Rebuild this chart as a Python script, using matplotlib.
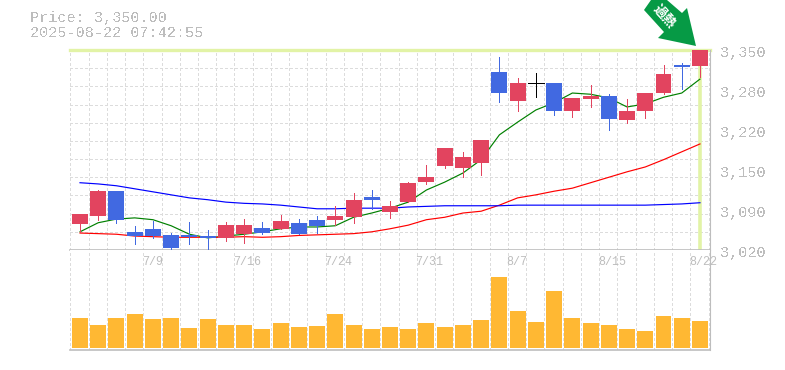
import matplotlib
matplotlib.use('Agg')
import matplotlib.pyplot as plt
from matplotlib.patches import Polygon

# ohlc
opens = [3063,3076,3117,3050,3055,3045,3045,3043,3040,3046,3056,3055,3065,3070,3070,3074,3107,3083,3099,3132,
         3159,3155,3164,3314,3266,3296,3296,3249,3269,3274,3234,3249,3279,3325,3324]
closes = [3079,3117,3070,3043,3043,3023,3041,3040,3061,3061,3048,3068,3046,3060,3076,3102,3102,3093,3131,3140,
          3188,3173,3201,3279,3296,3296,3249,3271,3274,3236,3249,3279,3310,3322,3350]
highs = [3079,3119,3117,3060,3068,3048,3066,3053,3066,3071,3066,3078,3071,3076,3093,3114,3119,3101,3132,3160,
         3188,3182,3201,3338,3304,3312,3296,3271,3292,3277,3269,3279,3325,3329,3350]
lows = [3050,3070,3065,3030,3040,3020,3030,3020,3035,3032,3046,3055,3046,3048,3061,3065,3088,3073,3099,3129,
        3155,3140,3144,3264,3249,3272,3243,3239,3256,3218,3230,3238,3277,3286,3305]
ma_short = [3050,3065,3071,3073,3070,3060,3046,3040,3043,3046,3050,3055,3058,3058,3060,3074,3081,3089,3099,3119,
            3132,3147,3169,3210,3231,3251,3263,3279,3277,3271,3256,3261,3272,3279,3302]
ma_mid = [3048,3047,3046,3043,3042,3041,3041,3041,3041,3042,3041,3042,3044,3045,3046,3047,3050,3055,3061,3070,
          3074,3081,3084,3094,3106,3111,3117,3122,3131,3140,3149,3157,3169,3182,3195]
ma_long = [3131,3129,3126,3121,3116,3111,3106,3103,3099,3097,3096,3094,3091,3088,3088,3089,3089,3089,3091,3092,
           3093,3093,3093,3093,3094,3094,3094,3094,3094,3094,3094,3094,3095,3096,3098]
volume = [30,23,30,34,29,30,20,29,23,23,19,25,21,22,34,23,19,21,19,25,21,23,28,71,37,26,57,30,25,23,19,17,32,30,27]
date_pos = [4,9,14,19,24,29,34]
date_labels = ['7/9','7/16','7/24','7/31','8/7','8/15','8/22']
price_pos = [3020,3086,3152,3218,3284,3350]
price_labels = ['3,020','3,090','3,150','3,220','3,280','3,350']
grid_prices = [3050,3080,3110,3140,3170,3200,3230,3260,3290,3320]

W, H = 785, 370
RED = '#e2445f'
BLUE = '#4169e1'
GRAY = '#bdbdbd'
LIME = '#e2f3a6'
mono = 'Liberation Mono'
x = list(range(len(closes)))

fig = plt.figure(figsize=(W/100, H/100), dpi=100)

def panel(left, top, right, bottom):
    return fig.add_axes([left/W, 1-bottom/H, (right-left)/W, (bottom-top)/H])

ax = panel(70, 50, 710, 250)
ax2 = panel(70, 250, 710, 350)

for a in (ax, ax2):
    a.set_xlim(-0.548, 34.55)
    a.set_xticks([i-0.53 for i in range(36)])
    a.tick_params(left=False, bottom=False, labelleft=False, labelbottom=False)
    a.grid(axis='x', color='#dcdcdc', ls=(0, (4, 3)), lw=0.5, antialiased=False)
    a.set_axisbelow(True)
    for s in a.spines.values():
        s.set_visible(False)
    a.spines['right'].set_visible(True)
    a.spines['right'].set_color(GRAY)
    a.spines['bottom'].set_visible(True)
    a.spines['bottom'].set_color(GRAY)
    a.spines['bottom'].set_linewidth(1.2)

ax.set_ylim(3020, 3350)
ax.set_yticks(grid_prices)
ax.grid(axis='y', color='#dcdcdc', ls=(0, (4, 3)), lw=0.5, antialiased=False)

# current price marker
ax.axhline(3350, color=LIME, lw=2.4, zorder=1, clip_on=False)
ax.axvline(x[-1], color=LIME, lw=2.6, zorder=1)

for i in x:
    if closes[i] > opens[i]:
        c = RED
    elif closes[i] < opens[i]:
        c = BLUE
    else:
        c = 'black'
    ax.vlines(i, lows[i], highs[i], color=c, lw=0.5, zorder=3, clip_on=False, antialiased=False)
    if c == 'black':
        ax.hlines(closes[i], i-0.44, i+0.44, color=c, lw=0.5, zorder=3, antialiased=False)
    else:
        ax.bar(i, abs(closes[i]-opens[i]), bottom=min(opens[i], closes[i]), width=0.877, color=c, zorder=3)

ax.plot(x, ma_short, color='#008000', lw=0.85, zorder=2)
ax.plot(x, ma_mid, color='#ff0000', lw=0.85, zorder=2)
ax.plot(x, ma_long, color='#0000ff', lw=0.85, zorder=2)

ax2.set_ylim(-2, 98)
ax2.bar(x, volume, width=0.877, color='#ffb833', zorder=3)

# text
for p, s in zip(price_pos, price_labels):
    ax.annotate(s, (1, p), xycoords=('axes fraction', 'data'), xytext=(10, -3), textcoords='offset pixels',
                ha='left', va='center', family=mono, fontsize=10.9, color=GRAY, annotation_clip=False,
                antialiased=False)
for p, s in zip(date_pos, date_labels):
    ax2.annotate(s, (p, 1), xycoords=('data', 'axes fraction'), xytext=(-11, -12), textcoords='offset pixels',
                 ha='left', va='center', family='Liberation Mono', fontsize=8.4, color=GRAY, annotation_clip=False)
fig.text(30/W, 1-18/H, 'Price: 3,350.00', family=mono, fontsize=10.9, color=GRAY, ha='left', va='center', antialiased=False)
fig.text(30/W, 1-33/H, '2025-08-22 07:42:55', family=mono, fontsize=10.9, color=GRAY, ha='left', va='center', antialiased=False)

# green arrow, pixel coords
arrow = [(644, 10), (651, 0), (667, 0), (682, 13), (687, 8), (696, 46), (658, 38), (664, 32)]
fig.add_artist(Polygon([(px/W, 1-py/H) for px, py in arrow], closed=True, transform=fig.transFigure,
                       facecolor='#069a45', edgecolor='none'))
fig.text(665/W, 1-16/H, '過熱', family='Noto Sans CJK JP', fontsize=9.5, fontweight='bold', color='white',
         rotation=-48, rotation_mode='anchor', ha='center', va='center')

fig.savefig('out.png', dpi=100)
